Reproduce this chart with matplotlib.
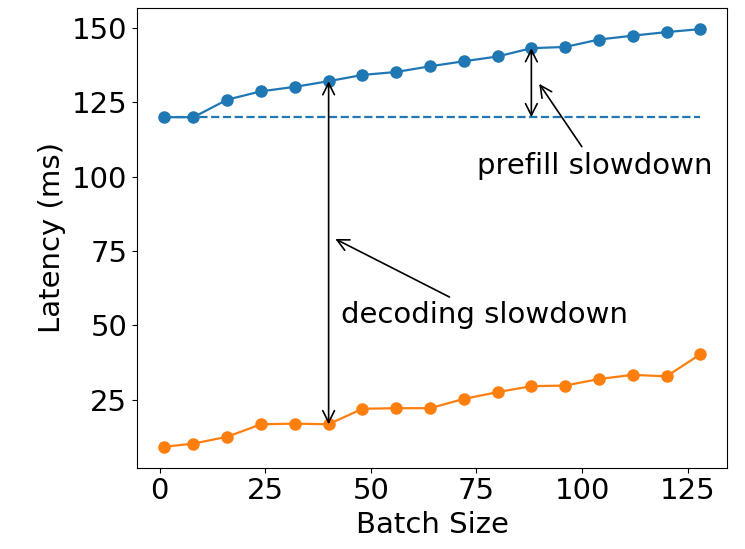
import matplotlib.pyplot as plt

# batch sizes and measured latencies (ms)
batch = [1, 8, 16, 24, 32, 40, 48, 56, 64, 72, 80, 88, 96, 104, 112, 120, 128]
prefill = [120.0, 120.0, 125.9, 128.7, 130.2, 132.1, 134.2, 135.2, 137.1, 138.8,
           140.4, 143.2, 143.6, 146.1, 147.4, 148.6, 149.6]
decode = [9.2, 10.3, 12.6, 16.8, 17.0, 16.8, 22.0, 22.2, 22.2, 25.3,
          27.6, 29.6, 29.8, 32.0, 33.4, 32.9, 40.3]

dec_idx = 5    # batch 40
pre_idx = 11   # batch 88

plt.rcParams['font.size'] = 21
fig = plt.figure(figsize=(7.45, 5.49), dpi=100)
ax = fig.add_axes([0.184, 0.148, 0.792, 0.837])

ax.plot(batch, prefill, 'o-', color='#1f77b4', ms=8, lw=1.6)
ax.plot(batch, decode, 'o-', color='#ff7f0e', ms=8, lw=1.6)
# prefill latency at batch 1, held flat as the baseline
ax.plot([batch[0], batch[-1]], [prefill[0], prefill[0]], '--', color='#1f77b4', lw=1.6)

# decoding slowdown: gap between the two curves
ax.annotate('', xy=(batch[dec_idx], prefill[dec_idx]), xytext=(batch[dec_idx], decode[dec_idx]),
            arrowprops=dict(arrowstyle='<->', color='black', lw=1.2, shrinkA=0, shrinkB=0))
ax.annotate('decoding slowdown', xy=(41, 79.5), xytext=(77, 53.5), ha='center', va='center',
            arrowprops=dict(arrowstyle='->', color='black', lw=1.2))

# prefill slowdown: gap above the baseline
ax.annotate('', xy=(batch[pre_idx], prefill[pre_idx]), xytext=(batch[pre_idx], prefill[0]),
            arrowprops=dict(arrowstyle='<->', color='black', lw=1.2, shrinkA=0, shrinkB=0))
ax.annotate('prefill slowdown', xy=(89.5, 132), xytext=(103, 103.7), ha='center', va='center',
            arrowprops=dict(arrowstyle='->', color='black', lw=1.2))

ax.set_xticks([0, 25, 50, 75, 100, 125])
ax.set_yticks([25, 50, 75, 100, 125, 150])
ax.set_xlabel('Batch Size')
ax.set_ylabel('Latency (ms)')

fig.savefig('out.png', dpi=100)
